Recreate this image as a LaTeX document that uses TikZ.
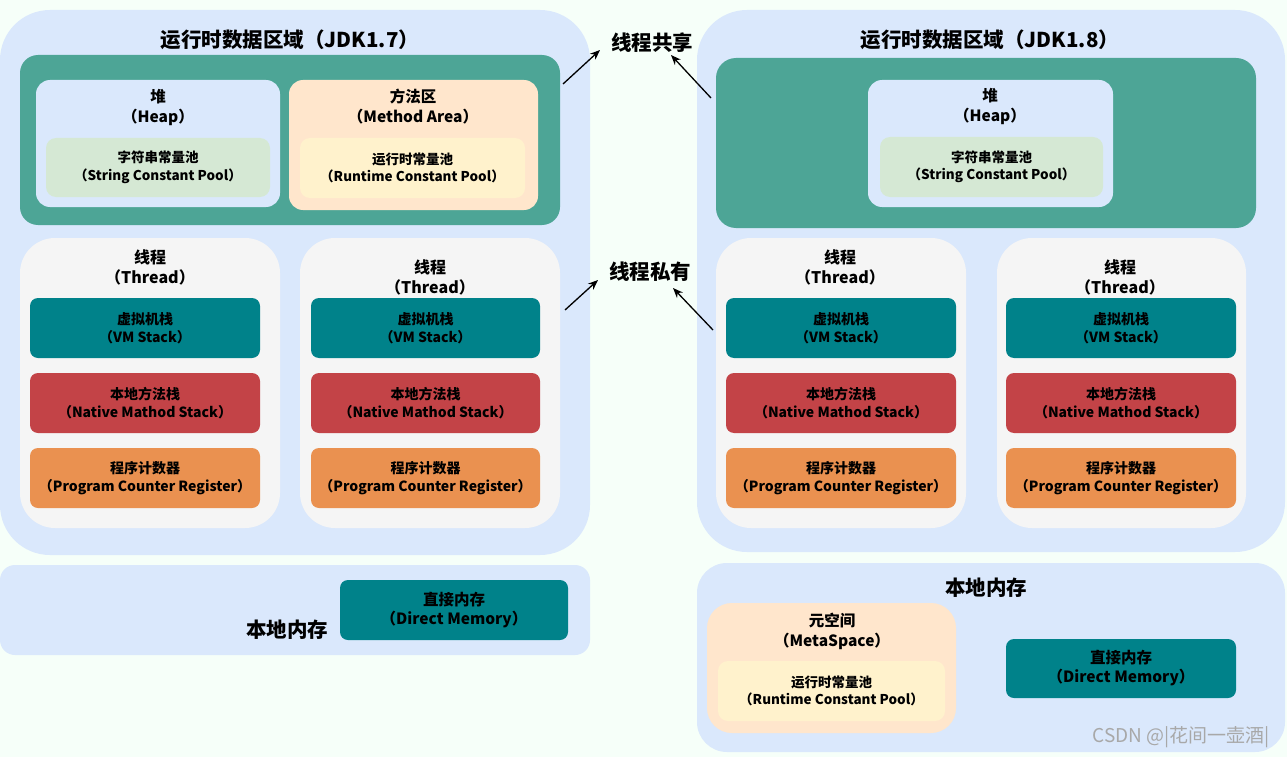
\documentclass[tikz,border=0pt]{standalone}
\usepackage{fontspec}
\setmainfont{Noto Sans CJK SC}
\usetikzlibrary{arrows.meta}
\definecolor{bgc}{HTML}{F6FFF9}
\definecolor{lblue}{HTML}{DAE8FC}
\definecolor{sgreen}{HTML}{4DA596}
\definecolor{dteal}{HTML}{00828A}
\definecolor{dred}{HTML}{C34347}
\definecolor{dorange}{HTML}{EA9150}
\definecolor{peach}{HTML}{FFE6CC}
\definecolor{lyellow}{HTML}{FFF2CC}
\definecolor{lgreen}{HTML}{D5E8D4}
\definecolor{lgray}{HTML}{F5F5F5}
\definecolor{wmgray}{HTML}{A8A8A8}
\newcommand\rbox[7]{\node[#6, minimum width={(#4-#2)*1pt}, minimum height={(#5-#3)*1pt}, inner sep=0pt, outer sep=0pt] (#1) at ({(#2+#4)/2},{(#3+#5)/2}) {#7};}
\tikzset{
  area/.style={draw=none, fill=#1},
  big/.style={font=\bfseries\fontsize{20.5}{24}\selectfont},
  head/.style={align=center, font=\bfseries\fontsize{15.5}{20}\selectfont},
  thead/.style={align=center, font=\bfseries\fontsize{16}{20}\selectfont},
  inner/.style={align=center, font=\bfseries\fontsize{14}{18}\selectfont},
  dmem/.style={align=center, font=\bfseries\fontsize{15.5}{19}\selectfont},
  pool/.style={align=center, font=\bfseries\fontsize{13.5}{17.5}\selectfont},
  arr/.style={-{Stealth[length=10pt,width=8pt]}, line width=1.3pt, black},
}
\begin{document}
\begin{tikzpicture}[x=1pt,y=-1pt]
\useasboundingbox (0,0) rectangle (1287,757);
\fill[bgc] (0,0) rectangle (1287,757);
% ---------- LEFT (JDK 1.7) ----------
\rbox{outerL}{0}{10}{590}{555}{area=lblue, rounded corners=50pt}{}
\node[big] (titleL) at (290,40) {运行时数据区域（JDK1.7）};
\rbox{sharedL}{20}{55}{560}{225}{area=sgreen, rounded corners=18pt}{}
\rbox{heapL}{36}{80}{280}{207}{area=lblue, rounded corners=14pt}{}
\node[head] (heapLt) at (158,107) {堆\\（Heap）};
\rbox{spoolL}{46}{138}{270}{197}{area=lgreen, rounded corners=10pt, pool}{字符串常量池\\（String Constant Pool）}
\rbox{methodL}{289}{80}{538}{210}{area=peach, rounded corners=14pt}{}
\node[head] (methodLt) at (413,107) {方法区\\（Method Area）};
\rbox{rpoolL}{300}{138}{525}{198}{area=lyellow, rounded corners=10pt, pool}{运行时常量池\\（Runtime Constant Pool）}
% threads
\rbox{thrL1}{20}{238}{280}{528}{area=lgray, rounded corners=35pt}{}
\node[thead] (thrL1t) at (150,267) {线程\\（Thread）};
\rbox{vmL1}{30}{298}{260}{358}{area=dteal, rounded corners=8pt, inner}{虚拟机栈\\（VM Stack）}
\rbox{nsL1}{30}{373}{260}{433}{area=dred, rounded corners=8pt, inner}{本地方法栈\\（Native Mathod Stack）}
\rbox{pcL1}{30}{448}{260}{508}{area=dorange, rounded corners=8pt, inner}{程序计数器\\（Program Counter Register）}
\rbox{thrL2}{300}{238}{560}{528}{area=lgray, rounded corners=35pt}{}
\node[thead] (thrL2t) at (430,277) {线程\\（Thread）};
\rbox{vmL2}{311}{298}{540}{358}{area=dteal, rounded corners=8pt, inner}{虚拟机栈\\（VM Stack）}
\rbox{nsL2}{311}{373}{540}{433}{area=dred, rounded corners=8pt, inner}{本地方法栈\\（Native Mathod Stack）}
\rbox{pcL2}{311}{448}{540}{508}{area=dorange, rounded corners=8pt, inner}{程序计数器\\（Program Counter Register）}
% native memory
\rbox{memL}{0}{565}{590}{655}{area=lblue, rounded corners=15pt}{}
\node[big] (memLt) at (287,630) {本地内存};
\rbox{dmL}{340}{580}{568}{640}{area=dteal, rounded corners=8pt, dmem}{直接内存\\（Direct Memory）}
% ---------- RIGHT (JDK 1.8) ----------
\rbox{outerR}{697}{10}{1285}{552}{area=lblue, rounded corners=50pt}{}
\node[big] (titleR) at (990,40) {运行时数据区域（JDK1.8）};
\rbox{sharedR}{716}{58}{1256}{228}{area=sgreen, rounded corners=20pt}{}
\rbox{heapR}{868}{80}{1113}{207}{area=lblue, rounded corners=14pt}{}
\node[head] (heapRt) at (990,106) {堆\\（Heap）};
\rbox{spoolR}{880}{137}{1103}{197}{area=lgreen, rounded corners=10pt, pool}{字符串常量池\\（String Constant Pool）}
\rbox{thrR1}{716}{238}{966}{528}{area=lgray, rounded corners=35pt}{}
\node[thead] (thrR1t) at (840,267) {线程\\（Thread）};
\rbox{vmR1}{726}{298}{956}{358}{area=dteal, rounded corners=8pt, inner}{虚拟机栈\\（VM Stack）}
\rbox{nsR1}{726}{373}{956}{433}{area=dred, rounded corners=8pt, inner}{本地方法栈\\（Native Mathod Stack）}
\rbox{pcR1}{726}{448}{956}{508}{area=dorange, rounded corners=8pt, inner}{程序计数器\\（Program Counter Register）}
\rbox{thrR2}{997}{238}{1246}{528}{area=lgray, rounded corners=35pt}{}
\node[thead] (thrR2t) at (1120,277) {线程\\（Thread）};
\rbox{vmR2}{1006}{298}{1236}{358}{area=dteal, rounded corners=8pt, inner}{虚拟机栈\\（VM Stack）}
\rbox{nsR2}{1006}{373}{1236}{433}{area=dred, rounded corners=8pt, inner}{本地方法栈\\（Native Mathod Stack）}
\rbox{pcR2}{1006}{448}{1236}{508}{area=dorange, rounded corners=8pt, inner}{程序计数器\\（Program Counter Register）}
% native memory
\rbox{memR}{697}{563}{1285}{752}{area=lblue, rounded corners=30pt}{}
\node[big] (memRt) at (986,588) {本地内存};
\rbox{metaR}{707}{603}{956}{733}{area=peach, rounded corners=25pt}{}
\node[head] (metaRt) at (832,631) {元空间\\（MetaSpace）};
\rbox{rpoolR}{718}{661}{945}{721}{area=lyellow, rounded corners=10pt, pool}{运行时常量池\\（Runtime Constant Pool）}
\rbox{dmR}{1006}{639}{1236}{698}{area=dteal, rounded corners=8pt, dmem}{直接内存\\（Direct Memory）}
\node[font=\fontsize{19}{22}\selectfont, text=wmgray] (wm) at (1181,737) {CSDN @|花间一壶酒|};
% ---------- middle labels and arrows ----------
\node[big] (shared) at (652,43) {线程共享};
\node[big] (private) at (650,272) {线程私有};
\coordinate (a1s) at (563,84);  \coordinate (a1e) at (600,50);
\coordinate (a2s) at (711,98);  \coordinate (a2e) at (671,55);
\coordinate (a3s) at (565,310); \coordinate (a3e) at (598,280);
\coordinate (a4s) at (713,330); \coordinate (a4e) at (673,288);
\draw[arr] (a1s) -- (a1e);
\draw[arr] (a2s) -- (a2e);
\draw[arr] (a3s) -- (a3e);
\draw[arr] (a4s) -- (a4e);
\end{tikzpicture}
\end{document}
